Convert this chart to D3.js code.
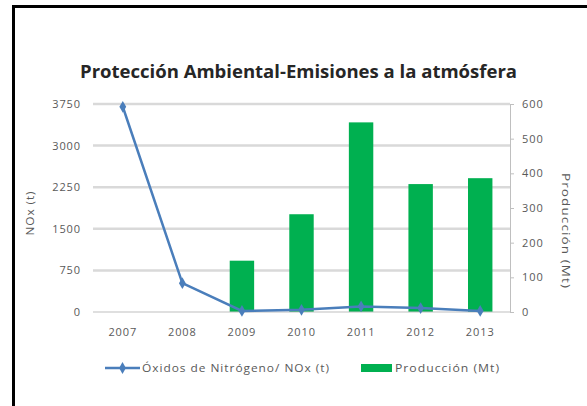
<!DOCTYPE html>
<html><head><meta charset="utf-8">
<script src="https://cdn.jsdelivr.net/npm/d3@7"></script>
<style>body{margin:0;background:#fff}svg{display:block}</style>
</head><body>
<script>
const years = ["2007","2008","2009","2010","2011","2012","2013"];
const noxValues = [3700, 520, 20, 40, 100, 70, 20];
const prodValues = [null, null, 148, 282, 547, 369, 386];
const leftTicks = [0, 750, 1500, 2250, 3000, 3750];
const rightTicks = [0, 100, 200, 300, 400, 500, 600];
const title = "Protección Ambiental-Emisiones a la atmósfera";
const leftLabel = "NOx (t)";
const rightLabel = "Producción (Mt)";
const legendLine = "Óxidos de Nitrógeno/ NOx (t)";
const legendBar = "Producción (Mt)";

(function () {
const W = 587, H = 406;
const svg = d3.select("body").append("svg").attr("width", W).attr("height", H);
svg.append("rect").attr("width", W).attr("height", H).attr("fill", "#fff");
svg.append("rect").attr("x", 13.5).attr("y", 6.5).attr("width", 620).attr("height", 440)
  .attr("fill", "none").attr("stroke", "#000").attr("stroke-width", 3);

const font = "'Open Sans', 'Liberation Sans', sans-serif";
const txt = "#595959";
const fs = "11px", ls = "0.9px";
const pL = 93, pR = 510, pT = 104, pB = 312;
const x = d3.scaleBand().domain(years).range([pL, pR]);
const yL = d3.scaleLinear().domain([0, 3750]).range([pB, pT]);
const yR = d3.scaleLinear().domain([0, 600]).range([pB, pT]);

// gridlines
svg.append("g").selectAll("line").data(leftTicks.filter(d => d > 0)).join("line")
  .attr("x1", pL).attr("x2", pR).attr("y1", d => yL(d)).attr("y2", d => yL(d))
  .attr("stroke", "#d9d9d9").attr("stroke-width", 2.5);

// bars
const bw = x.bandwidth() * 0.41;
svg.append("g").selectAll("rect").data(years.map((y, i) => ({y, v: prodValues[i]})).filter(d => d.v != null)).join("rect")
  .attr("x", d => x(d.y) + x.bandwidth() / 2 - bw / 2).attr("width", bw)
  .attr("y", d => yR(d.v)).attr("height", d => pB - yR(d.v))
  .attr("fill", "#00b050");

// bottom axis line
svg.append("line").attr("x1", pL).attr("x2", pR).attr("y1", pB).attr("y2", pB)
  .attr("stroke", "#bfbfbf").attr("stroke-width", 1.2);

const styleText = sel => sel.attr("fill", txt).style("font-family", font)
  .style("font-size", fs).style("letter-spacing", ls);

// right axis
const rAxis = svg.append("g").attr("transform", `translate(${pR},0)`)
  .call(d3.axisRight(yR).tickValues(rightTicks).tickSize(4).tickPadding(8).tickFormat(d3.format("d")));
rAxis.select(".domain").attr("stroke", "#bfbfbf");
rAxis.selectAll(".tick line").attr("stroke", "#bfbfbf");
rAxis.selectAll("text").call(styleText);

// left axis
const lAxis = svg.append("g").attr("transform", `translate(${pL},0)`)
  .call(d3.axisLeft(yL).tickValues(leftTicks).tickSize(0).tickPadding(12).tickFormat(d3.format("d")));
lAxis.select(".domain").remove();
lAxis.selectAll("text").call(styleText);

// x axis labels
const xAxis = svg.append("g").attr("transform", `translate(0,${pB})`)
  .call(d3.axisBottom(x).tickSize(0).tickPadding(16));
xAxis.select(".domain").remove();
xAxis.selectAll("text").call(styleText);

// line
const lineColor = "#4a7ebb";
const pts = years.map((y, i) => ({y, v: noxValues[i]}));
svg.append("path").datum(pts)
  .attr("d", d3.line().x(d => x(d.y) + x.bandwidth() / 2).y(d => yL(d.v)))
  .attr("fill", "none").attr("stroke", lineColor).attr("stroke-width", 2.5);
svg.append("g").selectAll("path").data(pts).join("path")
  .attr("d", d3.symbol().type(d3.symbolDiamond).size(40))
  .attr("transform", d => `translate(${x(d.y) + x.bandwidth() / 2},${yL(d.v)})`)
  .attr("fill", lineColor);

// title
svg.append("text").attr("x", 80).attr("y", 78)
  .style("font-family", font).style("font-size", "18px").style("font-weight", "bold")
  .attr("fill", "#262626").attr("textLength", 437).attr("lengthAdjust", "spacingAndGlyphs").text(title);

// axis titles
svg.append("text").attr("transform", "translate(34,213) rotate(-90)").attr("text-anchor", "middle")
  .call(styleText).attr("textLength", 45).attr("lengthAdjust", "spacingAndGlyphs").text(leftLabel);
svg.append("text").attr("transform", "translate(562,231) rotate(90)").attr("text-anchor", "middle")
  .call(styleText).attr("textLength", 116).attr("lengthAdjust", "spacingAndGlyphs").text(rightLabel);

// legend
const ly = 368;
svg.append("line").attr("x1", 105).attr("x2", 140).attr("y1", ly).attr("y2", ly)
  .attr("stroke", lineColor).attr("stroke-width", 2.5);
svg.append("path").attr("d", d3.symbol().type(d3.symbolDiamond).size(40))
  .attr("transform", `translate(122.5,${ly})`).attr("fill", lineColor);
svg.append("text").attr("x", 142).attr("y", ly + 4).call(styleText)
  .attr("textLength", 188).attr("lengthAdjust", "spacingAndGlyphs").text(legendLine);
svg.append("rect").attr("x", 361).attr("y", ly - 4).attr("width", 31).attr("height", 8).attr("fill", "#00b050");
svg.append("text").attr("x", 395).attr("y", ly + 4).call(styleText)
  .attr("textLength", 105).attr("lengthAdjust", "spacingAndGlyphs").text(legendBar);
})();
</script>
</body></html>
